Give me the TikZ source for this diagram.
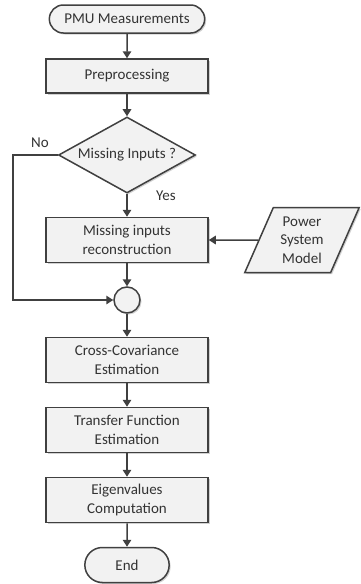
\documentclass[tikz,border=0pt]{standalone}
\usepackage{fontspec}
\setmainfont{Carlito}
\usepackage{xcolor}
\usepackage{tikz}
\usetikzlibrary{arrows.meta,positioning,shapes,shadows}

\definecolor{edgegray}{HTML}{404040}
\definecolor{boxfill}{HTML}{F2F2F2}

\begin{document}
\begin{tikzpicture}[x=1pt, y=1pt,
    base/.style={draw=edgegray, line width=1.5pt, fill=boxfill,
                 font=\fontsize{15}{18.3}\selectfont, align=center, text=black!80,
                 drop shadow={shadow xshift=1.5pt, shadow yshift=-1.5pt,
                              fill=gray!60, opacity=0.6}},
    term/.style={base, rounded rectangle, minimum height=28pt},
    proc/.style={base, rectangle, minimum width=162pt, minimum height=34pt},
    proc2/.style={proc, minimum height=45pt},
    decide/.style={base, diamond, aspect=1.8, minimum width=137pt,
                   minimum height=76pt, inner sep=0pt},
    datain/.style={base, trapezium, trapezium left angle=65,
                   trapezium right angle=115, trapezium stretches=true,
                   minimum width=115pt, minimum height=65pt, inner sep=0pt},
    junction/.style={base, circle, minimum size=26pt, inner sep=0pt},
    arrow/.style={-{Triangle[length=7pt,width=8.5pt]}, line width=1.5pt, draw=edgegray},
    lbl/.style={font=\fontsize{15}{18}\selectfont, text=black!80}
]
    \useasboundingbox (0,0) rectangle (360,-584);

    % Start
    \node[term, minimum width=162pt] (start) at (127,-19) {PMU Measurements};

    % Preprocessing and decision
    \node[proc] (prep) at (127,-76) {Preprocessing};
    \node[decide] (miss) at (127,-155) {Missing Inputs ?};

    % Reconstruction with model input
    \node[proc2] (recon) at (127,-240) {Missing inputs\\reconstruction};
    \node[datain] (model) at (302,-240) {Power\\System\\Model};

    % Junction
    \node[junction] (junc) at (127,-300) {};
    \coordinate (nocorner) at (13,-155);

    % Estimation steps
    \node[proc2] (xcov) at (127,-360) {Cross-Covariance\\Estimation};
    \node[proc2] (tf) at (127,-430) {Transfer Function\\Estimation};
    \node[proc2] (eig) at (127,-500) {Eigenvalues\\Computation};

    % End
    \node[term, minimum width=91pt, minimum height=35pt] (stop) at (127,-565) {End};

    % Branch labels
    \node[lbl] (no) at (40,-143) {No};
    \node[lbl] (yes) at (166,-196) {Yes};

    % Arrows
    \draw[arrow] (start) -- (prep);
    \draw[arrow] (prep) -- (miss);
    \draw[arrow] (miss) -- (recon);
    \draw[arrow] (model) -- (recon);
    \draw[arrow] (recon) -- (junc);
    \draw[arrow] (miss.west) -- (nocorner) |- (junc.west);
    \draw[arrow] (junc) -- (xcov);
    \draw[arrow] (xcov) -- (tf);
    \draw[arrow] (tf) -- (eig);
    \draw[arrow] (eig) -- (stop);
\end{tikzpicture}
\end{document}
